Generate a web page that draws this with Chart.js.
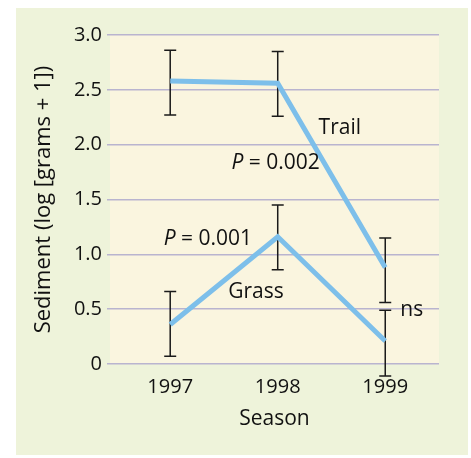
<!DOCTYPE html>
<html>
<head>
<meta charset="utf-8">
<script src="https://cdn.jsdelivr.net/npm/chart.js@4"></script>
<style>
  html, body { margin: 0; padding: 0; background: #fff; }
  #panel { position: absolute; left: 16px; top: 8px; width: 452px; height: 447px; background: #eef3da; }
</style>
</head>
<body>
<div id="panel"><canvas id="chart"></canvas></div>
<script>
// data
const seasons = [1997, 1998, 1999];
const trailMean = [2.58, 2.56, 0.88];
const trailHigh = [2.86, 2.85, 1.15];
const trailLow = [2.27, 2.26, 0.56];
const grassMean = [0.36, 1.16, 0.21];
const grassHigh = [0.66, 1.45, 0.49];
const grassLow = [0.07, 0.86, -0.11];
const yTicks = [0, 0.5, 1.0, 1.5, 2.0, 2.5, 3.0];
const yTickLabels = ["0", "0.5", "1.0", "1.5", "2.0", "2.5", "3.0"];

// text notes: [text, season position, value]
const notes = [
  ["Trail", 1998.38, 2.15],
  ["P = 0.002", 1997.57, 1.835],
  ["P = 0.001", 1996.94, 1.14],
  ["Grass", 1997.54, 0.66],
  ["ns", 1999.14, 0.49]
];

const FONT = "'Open Sans', 'DejaVu Sans', sans-serif";
const lineBlue = "#7dbfea";

const toPoints = vals => seasons.map((s, i) => ({ x: s, y: vals[i] }));

const backdrop = {
  id: "backdrop",
  beforeDraw(chart) {
    const { ctx, chartArea: a } = chart;
    ctx.save();
    ctx.fillStyle = "#faf5df";
    ctx.fillRect(a.left, a.top, a.right - a.left, a.bottom - a.top);
    ctx.restore();
  }
};

const errorBars = {
  id: "errorBars",
  beforeDatasetsDraw(chart) {
    const { ctx, scales: { x, y } } = chart;
    ctx.save();
    ctx.strokeStyle = "#1a1a1a";
    ctx.lineWidth = 1.5;
    [[trailLow, trailHigh], [grassLow, grassHigh]].forEach(([lo, hi]) => {
      seasons.forEach((s, i) => {
        const px = x.getPixelForValue(s);
        const top = y.getPixelForValue(hi[i]);
        const bot = y.getPixelForValue(lo[i]);
        ctx.beginPath();
        ctx.moveTo(px, top); ctx.lineTo(px, bot);
        ctx.moveTo(px - 6, top); ctx.lineTo(px + 6, top);
        ctx.moveTo(px - 6, bot); ctx.lineTo(px + 6, bot);
        ctx.stroke();
      });
    });
    ctx.restore();
  }
};

const labels = {
  id: "labels",
  afterDatasetsDraw(chart) {
    const { ctx, scales: { x, y } } = chart;
    ctx.save();
    ctx.fillStyle = "#111";
    ctx.textBaseline = "middle";
    ctx.textAlign = "left";
    notes.forEach(([text, sx, sy]) => {
      let px = x.getPixelForValue(sx);
      const py = y.getPixelForValue(sy);
      if (text.startsWith("P ")) {
        ctx.font = "italic 21px " + FONT;
        ctx.fillText("P", px, py);
        px += ctx.measureText("P").width;
        ctx.font = "21px " + FONT;
        ctx.fillText(text.slice(1), px, py);
      } else {
        ctx.font = "21px " + FONT;
        ctx.fillText(text, px, py);
      }
    });
    ctx.restore();
  }
};

new Chart(document.getElementById("chart"), {
  type: "line",
  data: {
    datasets: [
      { label: "Trail", data: toPoints(trailMean), borderColor: lineBlue, borderWidth: 5, pointRadius: 0, tension: 0, borderJoinStyle: "miter" },
      { label: "Grass", data: toPoints(grassMean), borderColor: lineBlue, borderWidth: 5, pointRadius: 0, tension: 0, borderJoinStyle: "miter" }
    ]
  },
  options: {
    responsive: true,
    maintainAspectRatio: false,
    animation: false,
    layout: { padding: { left: 0, top: 27, right: 29, bottom: 0 } },
    plugins: { legend: { display: false }, tooltip: { enabled: false } },
    scales: {
      x: {
        type: "linear",
        min: 1996.44,
        max: 1999.5,
        afterBuildTicks: scale => { scale.ticks = seasons.map(v => ({ value: v })); },
        afterFit: scale => { scale.height = 91; },
        grid: { display: false, drawTicks: false },
        border: { display: false },
        ticks: { color: "#111", font: { family: FONT, size: 20 }, padding: 11, callback: v => String(v), maxRotation: 0 },
        title: { display: true, text: "Season", color: "#111", font: { family: FONT, size: 21 }, padding: { top: 0, bottom: 23 } }
      },
      y: {
        min: 0,
        max: 3,
        afterBuildTicks: scale => { scale.ticks = yTicks.map(v => ({ value: v })); },
        afterFit: scale => { scale.width = 94; },
        grid: { color: "#b9b4cf", lineWidth: 1.5, tickLength: 3 },
        border: { display: false },
        ticks: { color: "#111", font: { family: FONT, size: 20 }, padding: 5, callback: (v, i) => yTickLabels[i] },
        title: { display: true, text: "Sediment (log [grams + 1])", color: "#111", font: { family: FONT, size: 22 }, padding: { top: 15, bottom: 0 } }
      }
    }
  },
  plugins: [backdrop, errorBars, labels]
});
</script>
</body>
</html>
